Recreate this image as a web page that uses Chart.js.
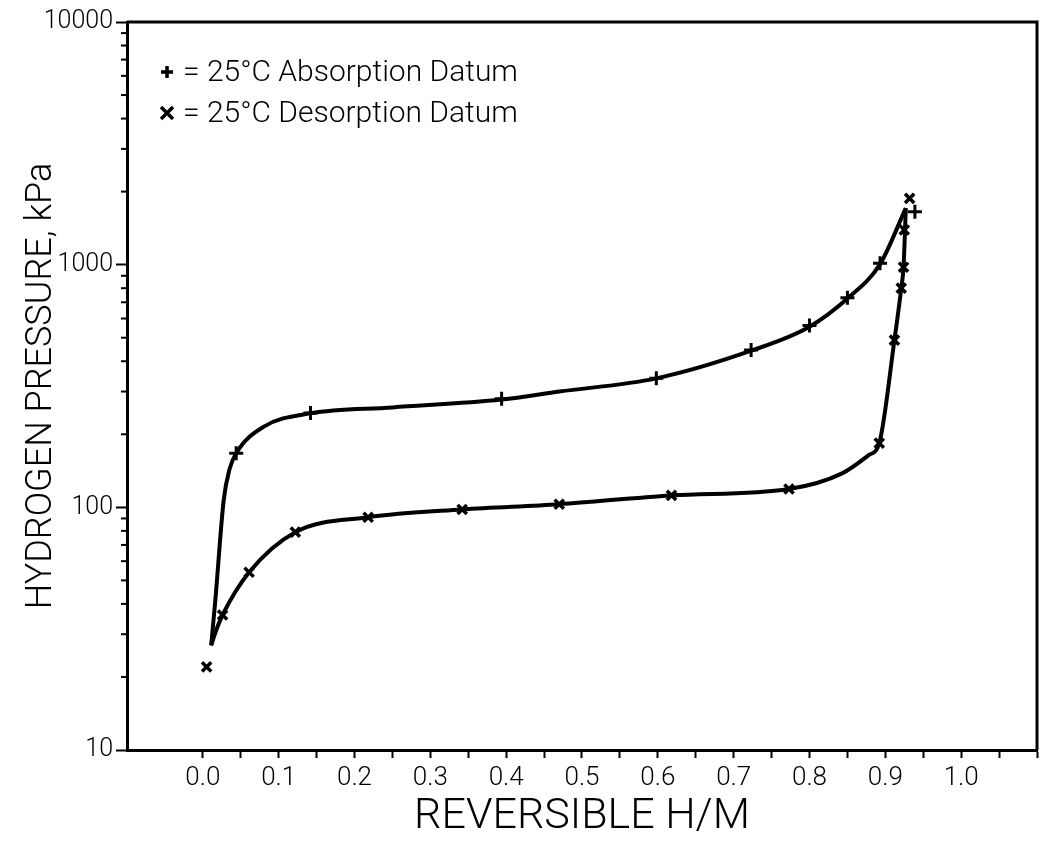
<!DOCTYPE html>
<html>
<head>
<meta charset="utf-8">
<script src="https://cdn.jsdelivr.net/npm/chart.js@4.4.0/dist/chart.umd.min.js"></script>
<style>
  html, body { margin: 0; padding: 0; background: #fff; }
</style>
</head>
<body>
<canvas id="isoChart" width="1047" height="846"></canvas>
<script>
// datum points (H/M, kPa)
var absorptionX = [0.044, 0.142, 0.394, 0.598, 0.723, 0.800, 0.850, 0.893, 0.939];
var absorptionP = [167, 245, 280, 340, 445, 561, 731, 1013, 1654];

var desorptionX = [0.005, 0.026, 0.061, 0.122, 0.218, 0.342, 0.470, 0.618, 0.773, 0.892, 0.912, 0.921, 0.924, 0.925, 0.932];
var desorptionP = [22, 36, 54, 79, 91, 98, 103, 112, 119, 184, 489, 800, 976, 1390, 1877];

// the hand-drawn curves, traced at a few places
var absCurveX = [0.011, 0.0165, 0.0275, 0.035, 0.044, 0.0805, 0.142, 0.25, 0.394, 0.47, 0.598, 0.723, 0.800, 0.850, 0.893, 0.927];
var absCurveP = [27, 41.5, 107, 143, 167, 215, 244, 258, 278, 300, 340, 442, 555, 725, 1005, 1710];

var desCurveX = [0.011, 0.0174, 0.026, 0.061, 0.122, 0.218, 0.342, 0.470, 0.618, 0.773, 0.843, 0.878, 0.892, 0.912, 0.921, 0.924, 0.927];
var desCurveP = [27, 31, 36, 54, 79, 91, 98, 103, 112, 119, 138, 164, 184, 489, 800, 976, 1710];

// ticks
var xMajorTicks = [0.0, 0.1, 0.2, 0.3, 0.4, 0.5, 0.6, 0.7, 0.8, 0.9, 1.0];
var xMinorTicks = [0.05, 0.15, 0.25, 0.35, 0.45, 0.55, 0.65, 0.75, 0.85, 0.95, 1.05, 1.1];
var yMajorTicks = [10, 100, 1000, 10000];
var yMinorTicks = [20, 30, 40, 50, 60, 70, 80, 90,
                   200, 300, 400, 500, 600, 700, 800, 900,
                   2000, 3000, 4000, 5000, 6000, 7000, 8000, 9000];

var legendLabels = ['= 25°C Absorption Datum', '= 25°C Desorption Datum'];

function pairs(xs, ys) {
  return xs.map(function (x, i) { return { x: x, y: ys[i] }; });
}

var FONT = 'Roboto, "DejaVu Sans", sans-serif';

// frame on top/right, short minor ticks on the log axis, legend text in the plot
var framePlugin = {
  id: 'frame',
  afterDatasetsDraw: function (chart) {
    var a = chart.chartArea, c = chart.ctx, ys = chart.scales.y;
    c.save();
    c.strokeStyle = '#000';
    c.lineWidth = 3;
    c.beginPath();
    c.moveTo(a.left, a.top);
    c.lineTo(a.right, a.top);
    c.lineTo(a.right, a.bottom);
    c.stroke();

    c.lineWidth = 2;
    yMinorTicks.forEach(function (v) {
      var py = ys.getPixelForValue(v);
      c.beginPath();
      c.moveTo(a.left - 6, py);
      c.lineTo(a.left, py);
      c.stroke();
    });

    // legend
    var mx = a.left + 40, y1 = a.top + 50, y2 = a.top + 91, s = 6;
    c.lineWidth = 3.5;
    c.beginPath();
    c.moveTo(mx - s, y1); c.lineTo(mx + s, y1);
    c.moveTo(mx, y1 - s); c.lineTo(mx, y1 + s);
    c.moveTo(mx - s, y2 - s); c.lineTo(mx + s, y2 + s);
    c.moveTo(mx - s, y2 + s); c.lineTo(mx + s, y2 - s);
    c.stroke();
    c.fillStyle = '#000';
    c.font = '300 30px ' + FONT;
    c.textBaseline = 'middle';
    c.fillText(legendLabels[0], mx + 16, y1 + 1);
    c.fillText(legendLabels[1], mx + 16, y2 + 1);
    c.restore();
  }
};

var ctx = document.getElementById('isoChart').getContext('2d');
var chart = new Chart(ctx, {
  type: 'scatter',
  data: {
    datasets: [
      {
        label: 'absorption curve',
        type: 'line',
        data: pairs(absCurveX, absCurveP),
        borderColor: '#000',
        borderWidth: 4,
        pointRadius: 0,
        fill: false,
        cubicInterpolationMode: 'monotone'
      },
      {
        label: 'desorption curve',
        type: 'line',
        data: pairs(desCurveX, desCurveP),
        borderColor: '#000',
        borderWidth: 4,
        pointRadius: 0,
        fill: false,
        cubicInterpolationMode: 'monotone'
      },
      {
        label: '25°C Absorption Datum',
        data: pairs(absorptionX, absorptionP),
        pointStyle: 'cross',
        pointRadius: 7,
        borderWidth: 3,
        borderColor: '#000'
      },
      {
        label: '25°C Desorption Datum',
        data: pairs(desorptionX, desorptionP),
        pointStyle: 'crossRot',
        pointRadius: 6.5,
        borderWidth: 3.5,
        borderColor: '#000'
      }
    ]
  },
  options: {
    responsive: false,
    animation: false,
    devicePixelRatio: 1,
    layout: { padding: { top: 22, right: 4, bottom: 0, left: 0 } },
    plugins: {
      legend: { display: false },
      tooltip: { enabled: false }
    },
    scales: {
      x: {
        type: 'linear',
        min: -0.1,
        max: 1.1,
        afterBuildTicks: function (scale) {
          scale.ticks = xMajorTicks.concat(xMinorTicks)
            .sort(function (p, q) { return p - q; })
            .map(function (v) { return { value: v }; });
        },
        afterFit: function (scale) { scale.height = 96; },
        border: { display: true, color: '#000', width: 3 },
        grid: { drawOnChartArea: false, drawTicks: true, tickLength: 8, tickColor: '#000', tickWidth: 2 },
        ticks: {
          color: '#000',
          padding: 5,
          maxRotation: 0,
          autoSkip: false,
          font: { family: FONT, size: 26, weight: '300' },
          callback: function (value) {
            var hit = xMajorTicks.some(function (m) { return Math.abs(m - value) < 1e-6; });
            return hit ? value.toFixed(1) : '';
          }
        },
        title: {
          display: true,
          text: 'REVERSIBLE H/M',
          color: '#000',
          font: { family: FONT, size: 43, weight: '300' },
          padding: { top: 0, bottom: 3 }
        }
      },
      y: {
        type: 'logarithmic',
        min: 10,
        max: 10000,
        afterBuildTicks: function (scale) {
          scale.ticks = yMajorTicks.map(function (v) { return { value: v }; });
        },
        afterFit: function (scale) { scale.width = 127; },
        border: { display: true, color: '#000', width: 3 },
        grid: { drawOnChartArea: false, drawTicks: true, tickLength: 11, tickColor: '#000', tickWidth: 2 },
        ticks: {
          color: '#000',
          padding: 3,
          autoSkip: false,
          font: { family: FONT, size: 25, weight: '300' },
          callback: function (value) { return String(value); }
        },
        title: {
          display: true,
          text: 'HYDROGEN PRESSURE, kPa',
          color: '#000',
          font: { family: FONT, size: 36, weight: '300' },
          padding: { top: 20, bottom: 0 }
        }
      }
    }
  },
  plugins: [framePlugin]
});
</script>
</body>
</html>
